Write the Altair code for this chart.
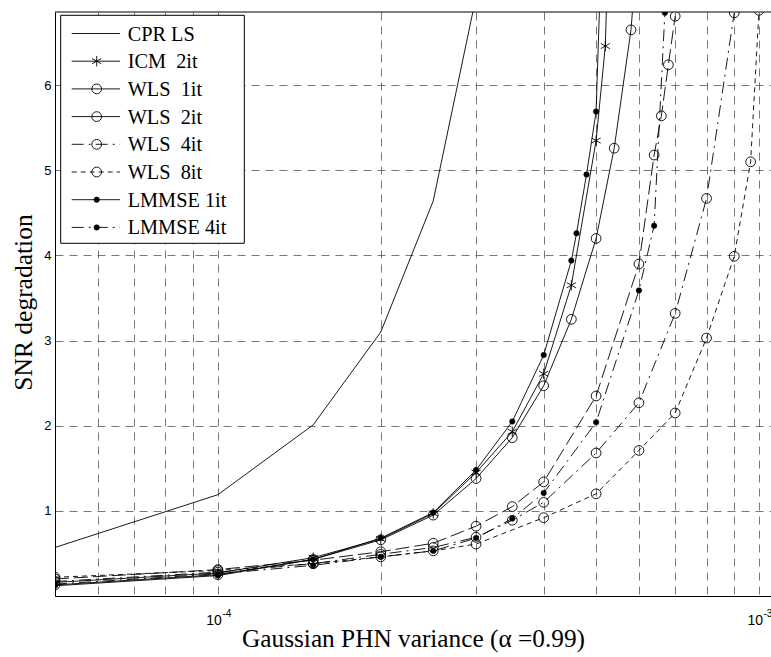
import altair as alt
import pandas as pd

# ---------------- data ----------------
x_cpr = [5e-5, 1e-4, 1.5e-4, 2e-4, 2.5e-4, 3e-4]
y_cpr = [0.57, 1.19, 2.01, 3.10, 4.64, 7.04]

x_icm = [5e-5, 1e-4, 1.5e-4, 2e-4, 2.5e-4, 3e-4, 3.5e-4, 4e-4, 4.5e-4, 5e-4, 5.2e-4, 5.4e-4]
y_icm = [0.16, 0.27, 0.45, 0.67, 0.97, 1.45, 1.93, 2.61, 3.65, 5.35, 6.46, 10.0]

x_wls1 = [5e-5, 1e-4, 1.5e-4, 2e-4, 2.5e-4, 3e-4, 3.5e-4, 4e-4, 4.5e-4, 5e-4, 5.4e-4, 5.8e-4, 6.2e-4]
y_wls1 = [0.13, 0.25, 0.43, 0.66, 0.95, 1.38, 1.86, 2.47, 3.25, 4.20, 5.26, 6.65, 9.0]

x_wls2 = [5e-5, 1e-4, 1.5e-4, 2e-4, 2.5e-4, 3e-4, 3.5e-4, 4e-4, 5e-4, 6e-4, 6.4e-4, 6.6e-4, 6.8e-4, 7e-4]
y_wls2 = [0.20, 0.31, 0.42, 0.52, 0.62, 0.82, 1.05, 1.34, 2.35, 3.90, 5.18, 5.64, 6.24, 6.81]

x_wls4 = [5e-5, 1e-4, 1.5e-4, 2e-4, 2.5e-4, 3e-4, 3.5e-4, 4e-4, 5e-4, 6e-4, 7e-4, 8e-4, 9e-4]
y_wls4 = [0.17, 0.28, 0.38, 0.49, 0.57, 0.69, 0.89, 1.10, 1.68, 2.27, 3.32, 4.67, 6.85]

x_wls8 = [5e-5, 1e-4, 1.5e-4, 2e-4, 2.5e-4, 3e-4, 4e-4, 5e-4, 6e-4, 7e-4, 8e-4, 9e-4, 9.65e-4, 1e-3]
y_wls8 = [0.22, 0.30, 0.38, 0.46, 0.53, 0.61, 0.92, 1.20, 1.71, 2.15, 3.03, 3.99, 5.10, 6.88]

x_lm1 = [5e-5, 1e-4, 1.5e-4, 2e-4, 2.5e-4, 3e-4, 3.5e-4, 4e-4, 4.5e-4, 4.6e-4, 4.8e-4, 5e-4, 5.2e-4]
y_lm1 = [0.12, 0.24, 0.43, 0.68, 0.98, 1.48, 2.05, 2.83, 3.94, 4.26, 4.95, 5.69, 9.0]

x_lm4 = [5e-5, 1e-4, 1.5e-4, 2e-4, 2.5e-4, 3e-4, 3.5e-4, 4e-4, 5e-4, 6e-4, 6.4e-4, 6.7e-4]
y_lm4 = [0.14, 0.26, 0.36, 0.46, 0.53, 0.68, 0.91, 1.21, 2.04, 3.59, 4.35, 6.85]

series_names = ["CPR LS", "ICM 2it", "WLS 1it", "WLS 2it", "WLS 4it", "WLS 8it", "LMMSE 1it", "LMMSE 4it"]
legend_labels = ["CPR LS", "ICM\u00a0 2it", "WLS\u00a0 1it", "WLS\u00a0 2it", "WLS\u00a0 4it",
                 "WLS\u00a0 8it", "LMMSE 1it", "LMMSE 4it"]
x_tick_values = [6e-5, 7e-5, 8e-5, 9e-5, 1e-4, 2e-4, 3e-4, 4e-4, 5e-4, 6e-4, 7e-4, 8e-4, 9e-4, 1e-3]
x_label_values = [1e-4, 1e-3]
x_label_base = ["10", "10"]
x_label_exp = ["-4", "-3"]
y_tick_values = [1, 2, 3, 4, 5, 6]

# ---------------- layout / style ----------------
W, H = 716, 584
XMIN, XMAX = 5e-5, 1.0524e-3
YMIN, YMAX = 0.0, 6.86
SERIF = "Liberation Serif"
SANS = "Liberation Sans"
STAR = "M0,-1L0,1M-0.87,-0.5L0.87,0.5M-0.87,0.5L0.87,-0.5"
LW = 0.9

xs = [x_cpr, x_icm, x_wls1, x_wls2, x_wls4, x_wls8, x_lm1, x_lm4]
ys = [y_cpr, y_icm, y_wls1, y_wls2, y_wls4, y_wls8, y_lm1, y_lm4]
dashes = [None, None, None, [14, 5], [12, 5, 2, 5], [5, 4], None, [12, 5, 2, 5]]
legend_dashes = [None, None, None, None, [12, 5, 2, 5], [5, 4], None, [12, 5, 2, 5]]
markers = [None, "star", "circle", "circle", "circle", "circle", "dot", "dot"]

x_enc = alt.X(
    "x:Q",
    scale=alt.Scale(type="log", domain=[XMIN, XMAX], nice=False),
    axis=alt.Axis(
        values=x_tick_values, grid=True, ticks=False, labels=False,
        title="Gaussian PHN variance (\u03b1 =0.99)", titleFont=SERIF, titleFontSize=25.3,
        titleFontWeight="normal", titleY=50, titleBaseline="alphabetic",
    ),
)
y_enc = alt.Y(
    "y:Q",
    scale=alt.Scale(domain=[YMIN, YMAX], nice=False, zero=False),
    axis=alt.Axis(
        values=y_tick_values, grid=True, ticks=False, labelPadding=4, labelFontSize=13,
        title="SNR degradation", titleFont=SERIF, titleFontSize=25.5, titleFontWeight="normal",
        titleX=-24, titleY=290, titleAngle=-90, titleBaseline="alphabetic",
    ),
)


def marker_kw(kind):
    if kind == "circle":
        return dict(shape="circle", size=95, filled=False,
                    stroke="black", strokeWidth=LW, opacity=1, clip=True)
    if kind == "dot":
        return dict(shape="circle", size=30, filled=True,
                    fill="black", stroke="black", strokeWidth=0.5, opacity=1, clip=True)
    return dict(shape=STAR, size=110, filled=False,
                stroke="black", strokeWidth=LW, opacity=1, clip=True)


layers = []
for name, xv, yv, dash, mk in zip(series_names, xs, ys, dashes, markers):
    df = pd.DataFrame({"x": xv, "y": yv, "series": name})
    line_kw = dict(color="black", strokeWidth=LW, clip=True)
    if dash:
        line_kw["strokeDash"] = dash
    layers.append(alt.Chart(df).mark_line(**line_kw).encode(x=x_enc, y=y_enc))
    if mk:
        layers.append(alt.Chart(df).mark_point(**marker_kw(mk)).encode(x=x_enc, y=y_enc))

# x tick labels in MATLAB style: "10" with a raised exponent
lab_df = pd.DataFrame({"x": x_label_values, "base": x_label_base, "exp": x_label_exp})
layers.append(alt.Chart(lab_df).mark_text(
    align="right", baseline="alphabetic", font=SANS, fontSize=14, color="black", dx=4).encode(
    x=x_enc, y=alt.value(H + 29), text="base:N"))
layers.append(alt.Chart(lab_df).mark_text(
    align="left", baseline="alphabetic", font=SANS, fontSize=10, color="black", dx=4.5).encode(
    x=x_enc, y=alt.value(H + 21), text="exp:N"))

# top frame line
one = pd.DataFrame({"d": [0]})
layers.append(alt.Chart(one).mark_rule(color="black", strokeWidth=1).encode(
    x=alt.value(0), x2=alt.value(W), y=alt.value(0)))

# ---------------- legend (drawn by hand, MATLAB style) ----------------
layers.append(alt.Chart(one).mark_rect(fill="white", stroke="black", strokeWidth=1).encode(
    x=alt.value(5.7), x2=alt.value(189.3), y=alt.value(3.3), y2=alt.value(231.3)))
row0, row_step = 21.5, 27.7
for i, (lab, dash, mk) in enumerate(zip(legend_labels, legend_dashes, markers)):
    yy = row0 + i * row_step
    rule_kw = dict(color="black", strokeWidth=LW)
    if dash:
        rule_kw["strokeDash"] = dash
    layers.append(alt.Chart(one).mark_rule(**rule_kw).encode(
        x=alt.value(16.7), x2=alt.value(65), y=alt.value(yy)))
    if mk:
        layers.append(alt.Chart(one).mark_point(**marker_kw(mk)).encode(
            x=alt.value(41.7), y=alt.value(yy)))
    layers.append(alt.Chart(one).mark_text(
        align="left", baseline="middle", font=SERIF, fontSize=20.3, color="black").encode(
        x=alt.value(72.7), y=alt.value(yy + 1), text=alt.value(lab)))

chart = alt.layer(*layers).properties(
    width=W, height=H,
    autosize=alt.AutoSizeParams(type="none"),
    padding={"left": 55, "top": 12, "right": 0, "bottom": 61},
).configure_view(stroke=None).configure_axis(
    domainColor="black", domainWidth=1,
    gridColor="#555555", gridDash=[8, 6], gridWidth=0.8, gridOpacity=1,
    labelFont=SANS, labelColor="black", titleColor="black",
)

chart.save("out.html", embed_options={"renderer": "svg", "actions": False})
